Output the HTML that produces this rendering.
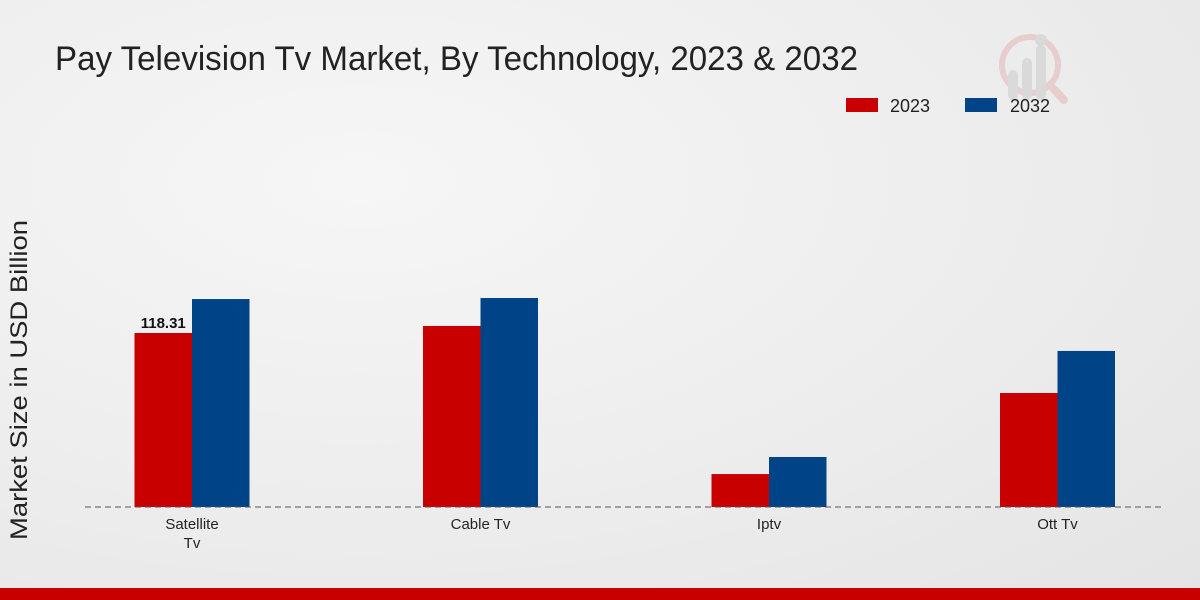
<!DOCTYPE html>
<html><head><meta charset="utf-8"><style>
html,body{margin:0;padding:0;}
body{width:1200px;height:600px;overflow:hidden;background:radial-gradient(ellipse at 30% 30%,#f6f6f6 0%,#ececec 60%,#e4e4e4 100%);font-family:"Liberation Sans",sans-serif;}
svg{display:block}
</style></head><body>
<svg id="chart" width="1200" height="600" xmlns="http://www.w3.org/2000/svg">
  <text x="55" y="70" font-size="34" textLength="803" lengthAdjust="spacingAndGlyphs" fill="#222">Pay Television Tv Market, By Technology, 2023 &amp; 2032</text>
  <g opacity="0.5">
    <circle cx="1030" cy="65" r="28" fill="none" stroke="#e4b0b0" stroke-width="6"/>
    <line x1="1050" y1="85" x2="1064" y2="100" stroke="#e4b0b0" stroke-width="8" stroke-linecap="round"/>
    <rect x="1008" y="70" width="10" height="30" rx="5" fill="#c8c8c8"/>
    <rect x="1022" y="58" width="10" height="42" rx="5" fill="#c8c8c8"/>
    <rect x="1036" y="45" width="10" height="55" rx="5" fill="#c8c8c8"/>
    <circle cx="1041" cy="40" r="6" fill="#c8c8c8"/>
  </g>
  <g>
    <rect x="846" y="98" width="32" height="14" fill="#c80000"/>
    <text x="890" y="112" font-size="18" fill="#222">2023</text>
    <rect x="965" y="98" width="32" height="14" fill="#004488"/>
    <text x="1010" y="112" font-size="18" fill="#222">2032</text>
  </g>
  <text transform="translate(27,380) rotate(-90)" text-anchor="middle" font-size="24" textLength="320" lengthAdjust="spacingAndGlyphs" fill="#222">Market Size in USD Billion</text>
  <g id="bars"></g>
  <line x1="85" y1="507" x2="1165" y2="507" stroke="#555" stroke-dasharray="6,4" stroke-width="1"/>
  <g id="xlabels"></g>
  <rect x="0" y="588" width="1200" height="12" fill="#c80000"/>
</svg>
<script>
const categories = ["Satellite\nTv", "Cable Tv", "Iptv", "Ott Tv"];
const values2023 = [118.31, 123.1, 22.4, 77.5];
const values2032 = [141.4, 142.1, 34.0, 106.1];
const labeledValues = ["118.31", null, null, null];

const NS = "http://www.w3.org/2000/svg";
const baseY = 507, pxPerUnit = 174 / 118.31;
const x0 = 192, step = 288.5, bw = 57.5;
const yScale = v => baseY - v * pxPerUnit;
const xCenter = i => x0 + i * step;
const bars = document.getElementById('bars');
const xl = document.getElementById('xlabels');
categories.forEach((c, i) => {
  const cx = xCenter(i);
  [[values2023, '#c80000', '2023', cx - bw], [values2032, '#004488', '2032', cx]].forEach(([arr, col, yr, x]) => {
    const r = document.createElementNS(NS, 'rect');
    
    
    r.setAttribute('x', x); r.setAttribute('width', bw);
    r.setAttribute('y', yScale(arr[i])); r.setAttribute('height', baseY - yScale(arr[i]));
    r.setAttribute('fill', col);
    bars.appendChild(r);
  });
  if (labeledValues[i]) {
    const t = document.createElementNS(NS, 'text');
    
    
    t.setAttribute('x', cx - bw / 2); t.setAttribute('y', yScale(values2023[i]) - 5);
    t.setAttribute('text-anchor', 'middle'); t.setAttribute('font-size', '15'); t.setAttribute('font-weight', 'bold'); t.setAttribute('fill', '#111');
    t.textContent = labeledValues[i];
    bars.appendChild(t);
  }
  const t = document.createElementNS(NS, 'text');
  
  
  t.setAttribute('text-anchor', 'middle'); t.setAttribute('font-size', '15'); t.setAttribute('fill', '#222');
  c.split('\n').forEach((line, k) => {
    const s = document.createElementNS(NS, 'tspan');
    s.setAttribute('x', cx); s.setAttribute('y', 529 + k * 19);
    s.textContent = line;
    t.appendChild(s);
  });
  xl.appendChild(t);
});
</script>
</body></html>
